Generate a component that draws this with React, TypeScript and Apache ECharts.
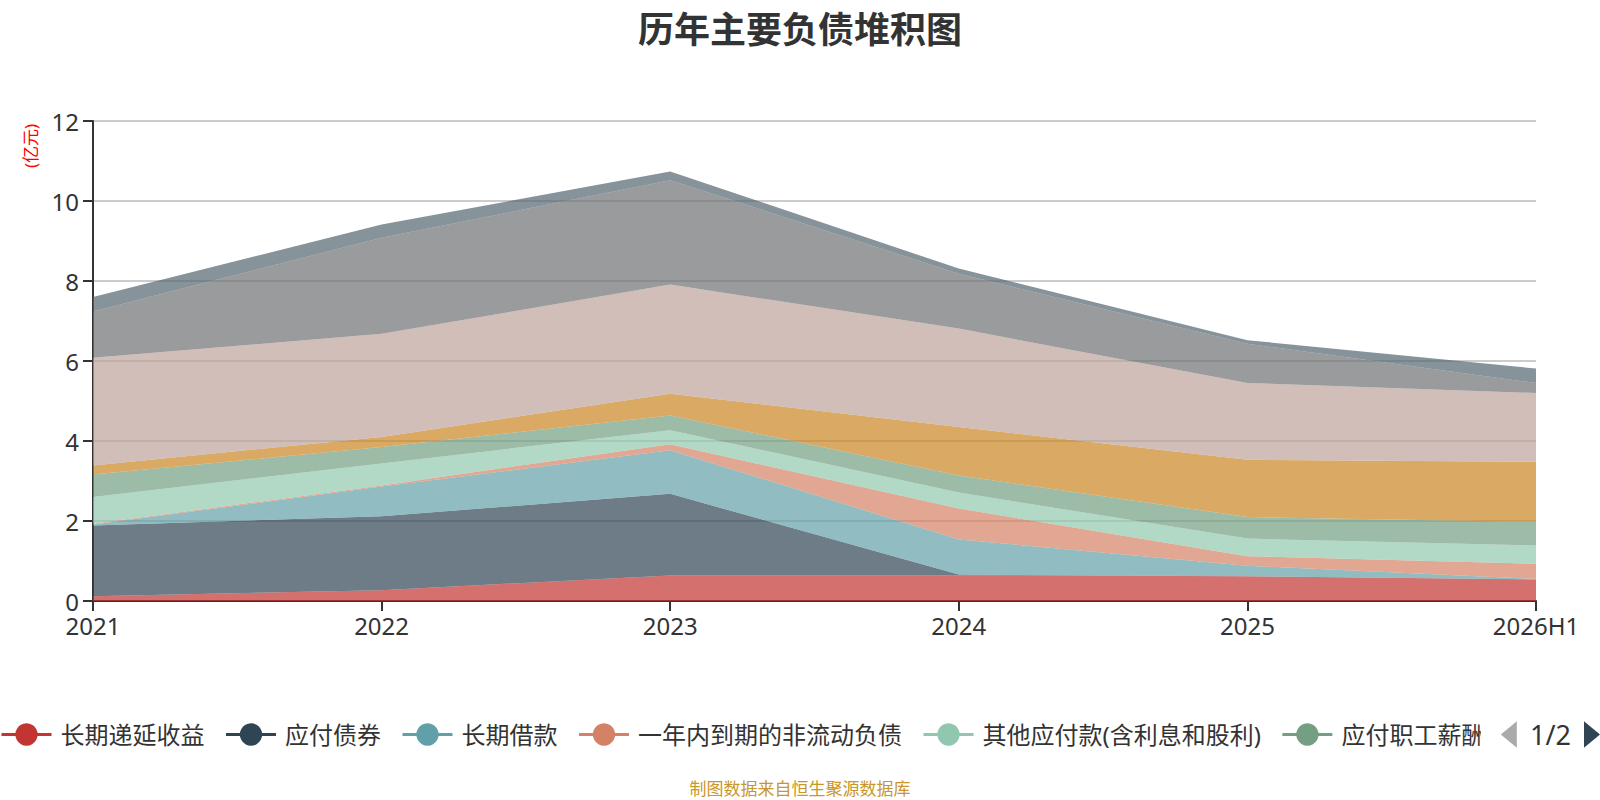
import { useEffect, useRef } from "react";
import * as echarts from "echarts";

// x axis
const years = ["2021", "2022", "2023", "2024", "2025", "2026H1"];

// 单位：亿元
const deferredIncome = [0.12, 0.27, 0.64, 0.64, 0.62, 0.54];
const bondsPayable = [1.77, 1.85, 2.04, 0.02, 0, 0];
const longTermLoans = [0.02, 0.74, 1.09, 0.88, 0.26, 0.01];
const currentNonCurrent = [0.02, 0.03, 0.15, 0.77, 0.24, 0.38];
const otherPayables = [0.67, 0.55, 0.35, 0.4, 0.44, 0.46];
const payroll = [0.56, 0.41, 0.37, 0.43, 0.54, 0.59];
const contractLiab = [0.23, 0.25, 0.54, 1.21, 1.43, 1.5];
const accountsPayable = [2.69, 2.58, 2.73, 2.46, 1.92, 1.72];
const notesPayable = [1.16, 2.4, 2.61, 1.37, 0.98, 0.25];
const shortTermLoans = [0.36, 0.33, 0.22, 0.13, 0.09, 0.36];

const seriesNames = [
    "长期递延收益",
    "应付债券",
    "长期借款",
    "一年内到期的非流动负债",
    "其他应付款(含利息和股利)",
    "应付职工薪酬",
    "合同负债",
    "应付账款",
    "应付票据",
    "短期借款",
];
const seriesValues = [
    deferredIncome,
    bondsPayable,
    longTermLoans,
    currentNonCurrent,
    otherPayables,
    payroll,
    contractLiab,
    accountsPayable,
    notesPayable,
    shortTermLoans,
];

const palette = [
    "#c23531",
    "#2f4554",
    "#61a0a8",
    "#d48265",
    "#91c7ae",
    "#749f83",
    "#ca8622",
    "#bda29a",
    "#6e7074",
    "#546570",
    "#c4ccd3",
];

const FONT = "'Noto Sans', 'Noto Sans CJK SC', sans-serif";

export default function App() {
    const chartRef = useRef<HTMLDivElement | null>(null);

    useEffect(() => {
        document.body.style.margin = "0";
        if (!chartRef.current) return;
        const chart = echarts.init(chartRef.current, undefined, { renderer: "svg" });

        const option: any = {
            animation: false,
            color: palette,
            textStyle: { fontFamily: FONT },
            title: {
                text: "历年主要负债堆积图",
                left: "center",
                top: 6,
                textStyle: { fontSize: 36, fontWeight: "bold", color: "#333", fontFamily: FONT },
            },
            graphic: [
                {
                    type: "text",
                    x: 30,
                    y: 146,
                    rotation: Math.PI / 2,
                    style: {
                        text: "(亿元)",
                        fill: "#ff0000",
                        font: `17px ${FONT}`,
                        textAlign: "center",
                        textVerticalAlign: "middle",
                    },
                },
                {
                    type: "text",
                    left: "center",
                    top: 780,
                    style: {
                        text: "制图数据来自恒生聚源数据库",
                        fill: "#c9962b",
                        font: `17px ${FONT}`,
                    },
                },
            ],
            legend: {
                type: "scroll",
                left: 0,
                right: 0,
                top: 721,
                padding: 0,
                itemWidth: 50,
                itemHeight: 28,
                itemGap: 20,
                textStyle: { fontSize: 24, color: "#333", fontFamily: FONT, padding: [0, 0, 0, 4] },
                lineStyle: { width: 3 },
                pageIconColor: "#2f4554",
                pageIconInactiveColor: "#aaa",
                pageIconSize: [16, 30],
                pageButtonItemGap: 0,
                pageTextStyle: { fontSize: 27, color: "#333", fontFamily: FONT },
                data: seriesNames,
            },
            grid: {
                left: 93,
                right: 64,
                top: 121,
                bottom: 199,
            },
            xAxis: {
                type: "category",
                boundaryGap: false,
                data: years,
                axisLine: { lineStyle: { color: "#333", width: 2 } },
                axisTick: { show: true, length: 10, lineStyle: { color: "#333", width: 2 } },
                axisLabel: { fontSize: 24, color: "#333", margin: 12 },
            },
            yAxis: {
                type: "value",
                min: 0,
                max: 12,
                interval: 2,
                axisLine: { show: true, lineStyle: { color: "#333", width: 2 } },
                axisTick: { show: true, length: 10, lineStyle: { color: "#333", width: 2 } },
                axisLabel: { fontSize: 24, color: "#333", margin: 14 },
                splitLine: { lineStyle: { color: "#ccc", width: 2 } },
            },
            series: seriesNames.map((name, i) => ({
                name,
                type: "line",
                stack: "total",
                symbol: "circle",
                showSymbol: false,
                lineStyle: { width: 0 },
                areaStyle: { opacity: 0.7 },
                data: seriesValues[i],
            })),
        };

        chart.setOption(option);
        return () => {
            chart.dispose();
        };
    }, []);

    return <div ref={chartRef} style={{ width: "1600px", height: "800px" }} />;
}
